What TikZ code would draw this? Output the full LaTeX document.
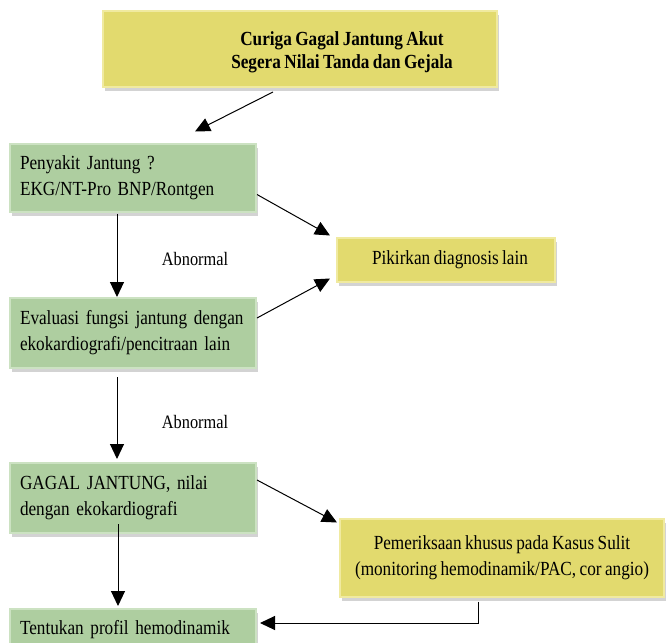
\documentclass[tikz,border=0pt]{standalone}
\usepackage{fontspec}
\setmainfont{Liberation Serif}[FakeStretch=0.86,WordSpace=0.8]
\usetikzlibrary{arrows.meta,shadows}
\definecolor{kuning}{RGB}{226,218,110}
\definecolor{kuningtepi}{RGB}{240,234,160}
\definecolor{hijau}{RGB}{174,206,160}
\definecolor{hijautepi}{RGB}{204,226,194}
\tikzset{
  kotak/.style={rectangle, line width=2pt, drop shadow={shadow xshift=2pt, shadow yshift=-4pt, opacity=.35},
    font=\fontsize{20}{26}\selectfont},
  kotakkuning/.style={kotak, fill=kuning, draw=kuningtepi, align=center},
  kotakhijau/.style={kotak, fill=hijau, draw=hijautepi, align=left, text width=226pt, inner xsep=10pt},
  panah/.style={->, line width=1pt},
}
\begin{document}
\begin{tikzpicture}[x=1pt, y=-1pt, >={Triangle[length=15pt,width=14pt]}]
\useasboundingbox (0,0) rectangle (670,643);
% kotak
\node[kotakkuning, minimum width=394pt, minimum height=76pt] (curiga) at (300,49) {};
\node[font=\fontsize{20}{23}\selectfont\bfseries, align=center] (judul) at (342,52)
  {Curiga Gagal Jantung Akut\\Segera Nilai Tanda dan Gejala};
\node[kotakhijau, minimum width=246pt, minimum height=68pt] (penyakit) at (133,177.5)
  {Penyakit Jantung ?\\EKG/NT-Pro BNP/Rontgen};
\node[kotakkuning, minimum width=218pt, minimum height=44pt] (pikirkan) at (446,259.5)
  {\hspace*{8pt}Pikirkan diagnosis lain};
\node[kotakhijau, minimum width=246pt, minimum height=70pt] (evaluasi) at (133,333)
  {Evaluasi fungsi jantung dengan\\ekokardiografi/pencitraan lain};
\node[kotakhijau, minimum width=246pt, minimum height=70pt] (gagal) at (133,498)
  {GAGAL JANTUNG, nilai\\dengan ekokardiografi};
\node[kotakkuning, minimum width=324pt, minimum height=78pt] (periksa) at (502,557.5)
  {Pemeriksaan khusus pada Kasus Sulit\\(monitoring hemodinamik/PAC, cor angio)};
\node[kotakhijau, minimum width=246pt, minimum height=50pt, text depth=14pt] (profil) at (133,634)
  {Tentukan profil hemodinamik};
% label
\node[font=\fontsize{19}{22}\selectfont] (abn1) at (195,259) {Abnormal};
\node[font=\fontsize{19}{22}\selectfont] (abn2) at (195,422) {Abnormal};
% panah
\draw[panah] ([xshift=-27pt,yshift=-4pt]curiga.south) -- ([xshift=62pt,yshift=11pt]penyakit.north);
\draw[panah] ([xshift=-16pt,yshift=-1pt]penyakit.south) -- ([xshift=-16pt]evaluasi.north);
\draw[panah] ([yshift=-17pt]penyakit.east) -- ([xshift=-6pt,yshift=1pt]pikirkan.north west);
\draw[panah] ([yshift=15pt]evaluasi.east) -- ([xshift=-6pt,yshift=4pt]pikirkan.south west);
\draw[panah] ([xshift=-16pt,yshift=-8pt]evaluasi.south) -- ([xshift=-16pt,yshift=3pt]gagal.north);
\draw[panah] ([yshift=18pt]gagal.east) -- ([xshift=-2pt,yshift=-5pt]periksa.north west);
\draw[panah] ([xshift=-15pt,yshift=10pt]gagal.south) -- ([xshift=-15pt,yshift=2pt]profil.north);
\draw[panah] ([xshift=-24pt,yshift=-4pt]periksa.south) |- ([xshift=3pt,yshift=11pt]profil.east);
\end{tikzpicture}
\end{document}
